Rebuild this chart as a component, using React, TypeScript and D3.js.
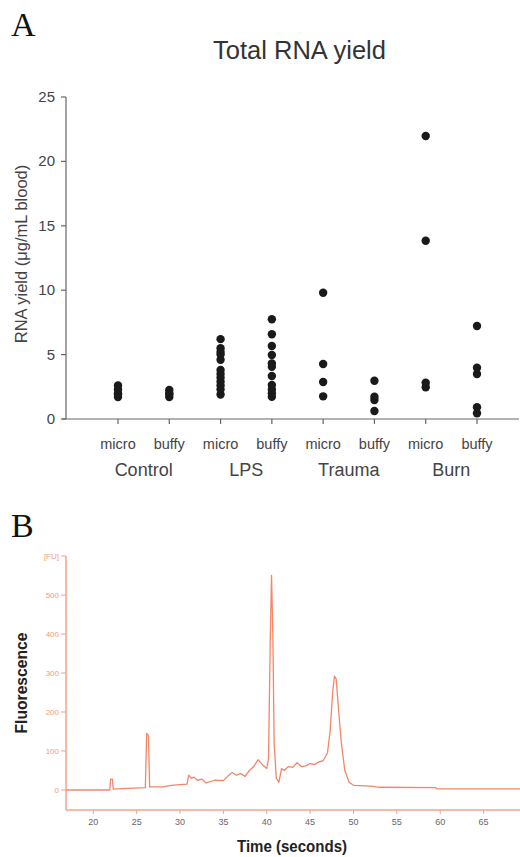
import * as d3 from "d3";

const W = 520;
const H = 857;

// panel A data: RNA yield (ug/mL blood)
const groups = ["Control", "LPS", "Trauma", "Burn"];
const methods = ["micro", "buffy"];
const controlMicro = [1.7, 1.9, 2.0, 2.3, 2.6];
const controlBuffy = [1.7, 1.9, 2.0, 2.25];
const lpsMicro = [1.9, 2.3, 2.6, 2.9, 3.2, 3.5, 3.8, 4.6, 5.0, 5.2, 5.5, 6.2];
const lpsBuffy = [1.73, 2.0, 2.3, 2.64, 3.34, 4.06, 4.32, 4.97, 5.67, 6.58, 7.74];
const traumaMicro = [1.76, 2.87, 4.27, 9.8];
const traumaBuffy = [0.62, 1.47, 1.73, 2.97];
const burnMicro = [2.46, 2.82, 13.84, 21.97];
const burnBuffy = [0.44, 0.91, 3.49, 3.98, 7.22];
const columns = [controlMicro, controlBuffy, lpsMicro, lpsBuffy, traumaMicro, traumaBuffy, burnMicro, burnBuffy];
const yTicksA = [0, 5, 10, 15, 20, 25];

// panel B data: electropherogram
const traceTime = [16.85, 21.9, 22.0, 22.2, 22.3, 24, 26.0, 26.15, 26.35, 26.5, 28, 29, 30, 30.8, 31.0, 31.3, 31.6, 32, 32.5, 33, 34, 35, 35.5, 36, 36.5, 37, 37.5, 38, 38.5, 39, 39.5, 40, 40.2, 40.4, 40.55, 40.7, 40.85, 41.1, 41.4, 41.7, 42, 42.5, 43, 43.5, 44, 44.5, 45, 45.5, 46, 46.5, 47, 47.3, 47.6, 47.8, 48.0, 48.3, 48.6, 49, 49.5, 50, 52, 53, 59.5, 59.6, 69.2];
const traceFU = [0, 0, 28, 28, 2, 4, 6, 145, 140, 8, 8, 12, 14, 15, 38, 30, 33, 25, 28, 18, 25, 24, 35, 45, 38, 42, 35, 50, 60, 78, 65, 55, 80, 380, 550, 400, 120, 30, 20, 55, 50, 60, 58, 70, 60, 62, 68, 65, 72, 75, 95, 150, 250, 292, 285, 200, 120, 50, 20, 12, 10, 7, 6, 3, 3];
const yTicksB = [0, 100, 200, 300, 400, 500, 600];
const xTicksB = [20, 25, 30, 35, 40, 45, 50, 55, 60, 65];

const sans = "'Liberation Sans', Arial, sans-serif";

export default function App() {
  const keys = groups.flatMap((g) => methods.map((m) => g + "-" + m));
  const xA = d3.scalePoint().domain(keys).range([118, 477]);
  const yA = d3.scaleLinear().domain([0, 25]).range([419, 97]);

  const xB = d3.scaleLinear().domain([16.85, 69.2]).range([66, 520]);
  const yB = d3.scaleLinear().domain([0, 600]).range([790, 556]);
  const line = d3
    .line<number>()
    .x((d, i) => xB(traceTime[i]))
    .y((d) => yB(d));

  const axisA = "#666";
  const axisB = "#f6a387";

  return (
    <svg width={W} height={H} style={{ position: "absolute", left: 0, top: 0 }} fontFamily={sans}>
      <rect width={W} height={H} fill="#fff" />
      {/* panel A */}
      <text x={11} y={36} fontFamily="'Liberation Serif', serif" fontSize={34} fill="#111">A</text>
      <text x={299.5} y={59} textAnchor="middle" fontSize={25.5} fill="#333">Total RNA yield</text>
      <line x1={66} x2={66} y1={yA(25)} y2={yA(0)} stroke={axisA} strokeWidth={1.2} />
      <line x1={62} x2={519} y1={yA(0)} y2={yA(0)} stroke={axisA} strokeWidth={1.2} />
      {yTicksA.map((t) => (
        <g key={t}>
          <line x1={61} x2={66} y1={yA(t)} y2={yA(t)} stroke={axisA} strokeWidth={1.2} />
          <text x={55} y={yA(t) + 5} textAnchor="end" fontSize={15} fill="#444">{t}</text>
        </g>
      ))}
      {keys.map((k, i) => (
        <g key={k}>
          <line x1={xA(k)} x2={xA(k)} y1={yA(0)} y2={yA(0) + 5} stroke={axisA} strokeWidth={1.2} />
          <text x={xA(k)} y={449} textAnchor="middle" fontSize={14.5} fill="#444">{methods[i % 2]}</text>
          {columns[i].map((v, j) => (
            <circle key={j} cx={xA(k)} cy={yA(v)} r={4.2} fill="#1a1a1a" />
          ))}
        </g>
      ))}
      {groups.map((g) => {
        const cx = ((xA(g + "-micro") as number) + (xA(g + "-buffy") as number)) / 2;
        return (
          <text key={g} x={cx} y={476} textAnchor="middle" fontSize={18} fill="#444">{g}</text>
        );
      })}
      <text transform="translate(27,254) rotate(-90)" textAnchor="middle" fontSize={16.5} fill="#444">RNA yield (μg/mL blood)</text>

      {/* panel B */}
      <text x={11} y={537} fontFamily="'Liberation Serif', serif" fontSize={34} fill="#111">B</text>
      <line x1={66} x2={66} y1={556} y2={810} stroke={axisB} strokeWidth={1.5} />
      <line x1={66} x2={520} y1={810} y2={810} stroke={axisB} strokeWidth={1.5} />
      {yTicksB.map((t) => (
        <g key={t}>
          <line x1={61} x2={66} y1={yB(t)} y2={yB(t)} stroke={axisB} strokeWidth={1} />
          <text x={59} y={yB(t) + 3} textAnchor="end" fontSize={8} fill="#f39a7c">{t === 600 ? "[FU]" : t}</text>
        </g>
      ))}
      {xTicksB.map((t) => (
        <g key={t}>
          <line x1={xB(t)} x2={xB(t)} y1={810} y2={814} stroke={axisB} strokeWidth={1} />
          <text x={xB(t)} y={825} textAnchor="middle" fontSize={9} fill="#666">{t}</text>
        </g>
      ))}
      <path d={line(traceFU) || ""} fill="none" stroke="#f2866a" strokeWidth={1.3} strokeLinejoin="round" />
      <text transform="translate(27,683) rotate(-90)" textAnchor="middle" fontSize={16} fontWeight="bold" fill="#222" textLength={101} lengthAdjust="spacingAndGlyphs">Fluorescence</text>
      <text x={292} y={852} textAnchor="middle" fontSize={16} fontWeight="bold" fill="#222" textLength={110} lengthAdjust="spacingAndGlyphs">Time (seconds)</text>
    </svg>
  );
}
